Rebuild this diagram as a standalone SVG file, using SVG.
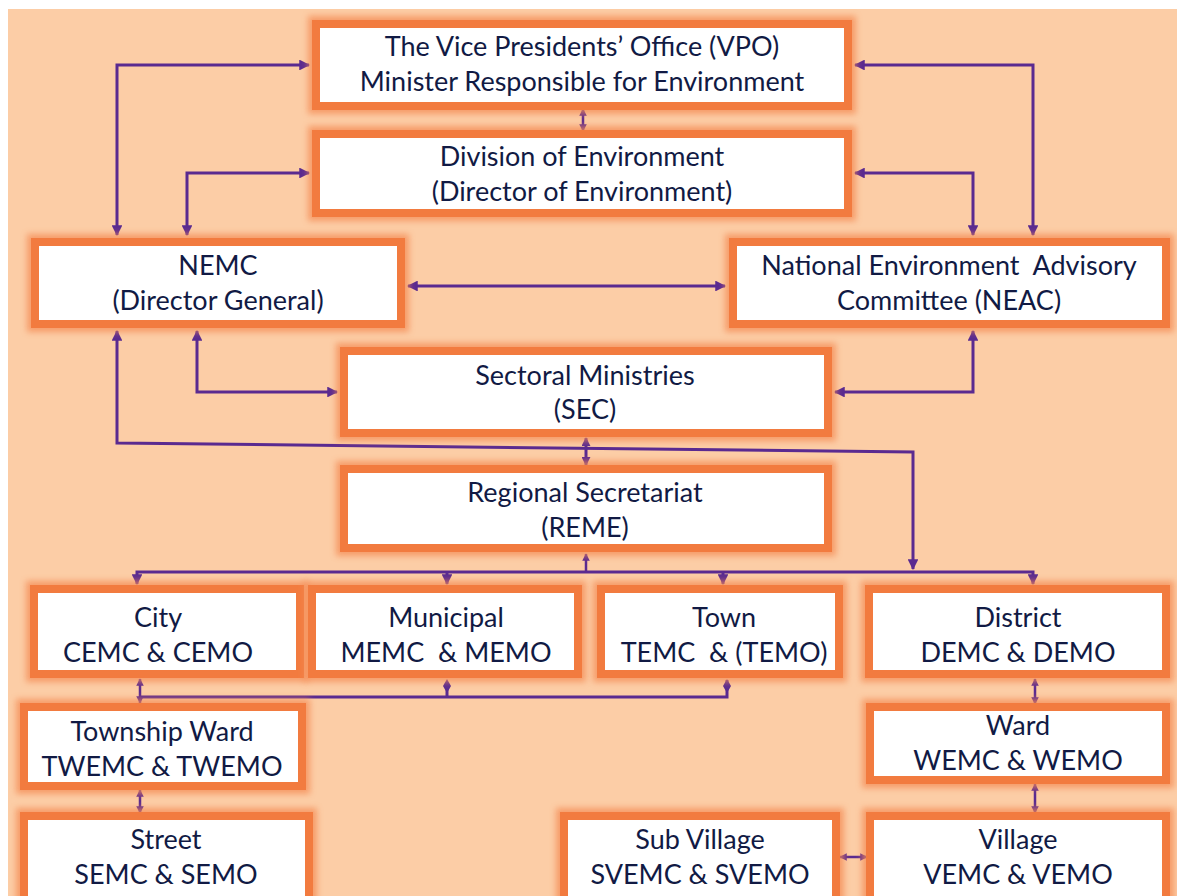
<svg xmlns="http://www.w3.org/2000/svg" width="1177" height="896" viewBox="0 0 1177 896">
<defs>
<style>
.bg{fill:#fccda6}
.glow{fill:none;stroke:#f48a52;stroke-width:16;opacity:0.75;filter:url(#blur)}
.box{fill:#ffffff;stroke:#f27b3f;stroke-width:8}
.t{font-family:Lato,"Open Sans",sans-serif;font-size:27px;fill:#111a44;text-anchor:middle}
.c{fill:none;stroke:#5a2a90;stroke-width:3}
.s{fill:none;stroke:#5a2a90;stroke-width:2.5}
</style>
<filter id="blur" x="-10%" y="-20%" width="120%" height="140%"><feGaussianBlur stdDeviation="3"/></filter>
<marker id="ah" viewBox="0 0 10 10" refX="9" refY="5" markerWidth="3.6" markerHeight="3.6" orient="auto-start-reverse" markerUnits="strokeWidth">
<path d="M0,0 L10,5 L0,10 z" fill="#5a2a90"/>
</marker>
<marker id="as" viewBox="0 0 10 10" refX="9" refY="5" markerWidth="3" markerHeight="3" orient="auto-start-reverse" markerUnits="strokeWidth">
<path d="M0,0 L10,5 L0,10 z" fill="#5a2a90"/>
</marker>
</defs>
<rect x="0" y="0" width="1177" height="896" fill="#ffffff"/>
<rect class="bg" x="8" y="9" width="1169" height="887"/>

<g id="connectors">
<polyline class="c" points="309,65 117,65 117,235" marker-start="url(#ah)" marker-end="url(#ah)"/>
<polyline class="c" points="309,173 187,173 187,235" marker-start="url(#ah)" marker-end="url(#ah)"/>
<polyline class="c" points="855,65 1033,65 1033,235" marker-start="url(#ah)" marker-end="url(#ah)"/>
<polyline class="c" points="855,173 973,173 973,235" marker-start="url(#ah)" marker-end="url(#ah)"/>
<line class="s" x1="583" y1="109" x2="583" y2="131" marker-start="url(#as)" marker-end="url(#as)"/>
<line class="c" x1="408" y1="286" x2="725" y2="286" marker-start="url(#ah)" marker-end="url(#ah)"/>
<polyline class="c" points="197,331 197,392 337,392" marker-start="url(#ah)" marker-end="url(#ah)"/>
<polyline class="c" points="973,331 973,392 835,392" marker-start="url(#ah)" marker-end="url(#ah)"/>
<polyline class="c" points="117,331 117,443 913,452 913,569" marker-start="url(#ah)" marker-end="url(#ah)"/>
<line class="c" x1="586" y1="438" x2="586" y2="465" marker-start="url(#as)" marker-end="url(#as)"/>
<line class="s" x1="586" y1="554" x2="586" y2="572" marker-start="url(#as)"/>
<polyline class="c" points="137,584 137,572 1033,572 1033,584" marker-start="url(#ah)" marker-end="url(#ah)"/>
<line class="c" x1="447" y1="572" x2="447" y2="584" marker-end="url(#ah)"/>
<line class="c" x1="723" y1="572" x2="723" y2="584" marker-end="url(#ah)"/>
<line class="s" x1="140" y1="679" x2="140" y2="703" marker-start="url(#as)" marker-end="url(#as)"/>
<polyline class="c" points="140,697 727,697 727,680"/>
<path d="M727,679 L731,686 L727,693 L723,686 Z" fill="#5a2a90"/>
<path d="M447,679 L451,686 L447,693 L443,686 Z" fill="#5a2a90"/>
<line class="c" x1="447" y1="697" x2="447" y2="688"/>
<line class="s" x1="140" y1="790" x2="140" y2="813" marker-start="url(#as)" marker-end="url(#as)"/>
<line class="s" x1="1035" y1="679" x2="1035" y2="704" marker-start="url(#as)" marker-end="url(#as)"/>
<line class="s" x1="1035" y1="784" x2="1035" y2="813" marker-start="url(#as)" marker-end="url(#as)"/>
<line class="s" x1="840" y1="857" x2="867" y2="857" marker-start="url(#as)" marker-end="url(#as)"/>
</g>

<g id="vpo"><rect class="glow" x="316" y="24" width="532" height="82"/><rect class="box" x="316" y="24" width="532" height="82"/>
<text class="t" x="582" y="56">The Vice Presidents’ Office (VPO)</text><text class="t" x="582" y="91">Minister Responsible for Environment</text></g>
<g id="division"><rect class="glow" x="316" y="134" width="532" height="79"/><rect class="box" x="316" y="134" width="532" height="79"/>
<text class="t" x="582" y="166">Division of Environment</text><text class="t" x="582" y="201">(Director of Environment)</text></g>
<g id="nemc"><rect class="glow" x="35" y="242" width="366" height="82"/><rect class="box" x="35" y="242" width="366" height="82"/>
<text class="t" x="218" y="275">NEMC</text><text class="t" x="218" y="310">(Director General)</text></g>
<g id="neac"><rect class="glow" x="733" y="242" width="433" height="82"/><rect class="box" x="733" y="242" width="433" height="82"/>
<text class="t" x="949" y="275" xml:space="preserve">National Environment  Advisory</text><text class="t" x="949" y="310">Committee (NEAC)</text></g>
<g id="sectoral"><rect class="glow" x="344" y="351" width="484" height="82"/><rect class="box" x="344" y="351" width="484" height="82"/>
<text class="t" x="585" y="385">Sectoral Ministries</text><text class="t" x="585" y="419">(SEC)</text></g>
<g id="regional"><rect class="glow" x="344" y="469" width="484" height="79"/><rect class="box" x="344" y="469" width="484" height="79"/>
<text class="t" x="585" y="502">Regional Secretariat</text><text class="t" x="585" y="537">(REME)</text></g>
<g id="city"><rect class="glow" x="34" y="589" width="266" height="85"/><rect class="box" x="34" y="589" width="266" height="85"/>
<text class="t" x="158" y="627">City</text><text class="t" x="158" y="662">CEMC &amp; CEMO</text></g>
<g id="municipal"><rect class="glow" x="312" y="589" width="266" height="85"/><rect class="box" x="312" y="589" width="266" height="85"/>
<text class="t" x="446" y="627">Municipal</text><text class="t" x="446" y="662" xml:space="preserve">MEMC  &amp; MEMO</text></g>
<g id="town"><rect class="glow" x="601" y="589" width="238" height="85"/><rect class="box" x="601" y="589" width="238" height="85"/>
<text class="t" x="724" y="627">Town</text><text class="t" x="724" y="662" xml:space="preserve">TEMC  &amp; (TEMO)</text></g>
<g id="district"><rect class="glow" x="869" y="589" width="297" height="85"/><rect class="box" x="869" y="589" width="297" height="85"/>
<text class="t" x="1018" y="627">District</text><text class="t" x="1018" y="662">DEMC &amp; DEMO</text></g>
<g id="township"><rect class="glow" x="24" y="707" width="278" height="79"/><rect class="box" x="24" y="707" width="278" height="79"/>
<text class="t" x="162" y="741">Township Ward</text><text class="t" x="162" y="776">TWEMC &amp; TWEMO</text></g>
<g id="ward"><rect class="glow" x="870" y="707" width="296" height="73"/><rect class="box" x="870" y="707" width="296" height="73"/>
<text class="t" x="1018" y="735">Ward</text><text class="t" x="1018" y="770">WEMC &amp; WEMO</text></g>
<g id="street"><rect class="glow" x="24" y="816" width="285" height="90"/><rect class="box" x="24" y="816" width="285" height="90"/>
<text class="t" x="166" y="849">Street</text><text class="t" x="166" y="884">SEMC &amp; SEMO</text></g>
<g id="subvillage"><rect class="glow" x="564" y="816" width="272" height="90"/><rect class="box" x="564" y="816" width="272" height="90"/>
<text class="t" x="700" y="849">Sub Village</text><text class="t" x="700" y="884">SVEMC &amp; SVEMO</text></g>
<g id="village"><rect class="glow" x="870" y="816" width="296" height="90"/><rect class="box" x="870" y="816" width="296" height="90"/>
<text class="t" x="1018" y="849">Village</text><text class="t" x="1018" y="884">VEMC &amp; VEMO</text></g>
</svg>
